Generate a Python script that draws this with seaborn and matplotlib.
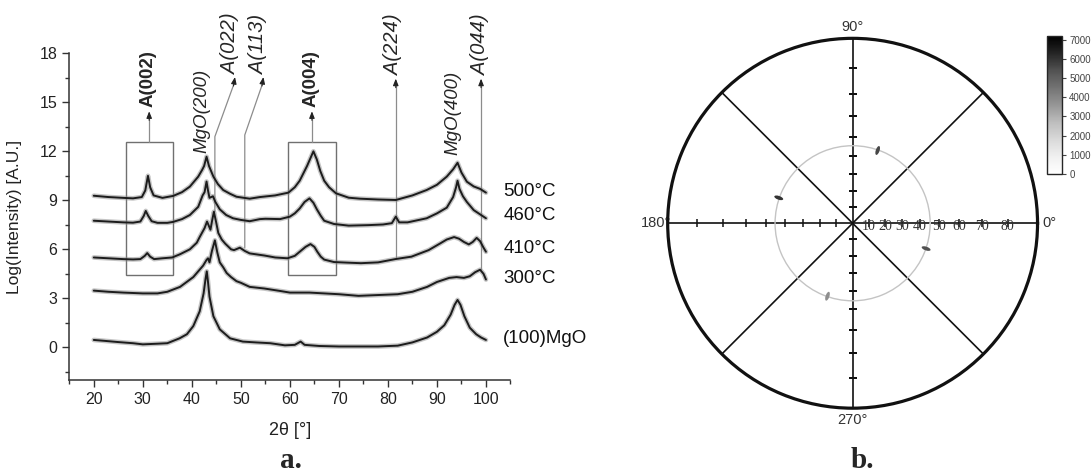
import numpy as np
import pandas as pd
import matplotlib
matplotlib.use('Agg')
import matplotlib.pyplot as plt
from matplotlib.markers import MarkerStyle
from matplotlib.transforms import Affine2D
import seaborn as sns

# --- panel a: XRD scans (2theta [deg], offset log intensity) ---
tt_mgo = [20, 22, 25, 28, 30, 33, 35, 37.5, 39, 40.3, 41.6, 42.4, 42.8, 43.05, 43.3, 43.6,
          44.4, 45.7, 47.8, 50.4, 53, 56, 59, 61, 62.2, 63, 66, 70, 74, 78, 82, 85, 88, 90,
          91.5, 92.8, 93.6, 94.2, 94.8, 95.6, 96.7, 98, 99, 100]
li_mgo = [0.45, 0.4, 0.32, 0.25, 0.18, 0.22, 0.25, 0.55, 0.8, 1.3, 2.2, 3.3, 4.2, 4.65, 4.0, 3.1,
          1.9, 1.1, 0.55, 0.35, 0.3, 0.25, 0.12, 0.15, 0.35, 0.15, 0.08, 0.05, 0.05, 0.05, 0.1,
          0.3, 0.6, 0.95, 1.35, 2.0, 2.6, 2.9, 2.6, 1.9, 1.2, 0.8, 0.6, 0.45]

tt_300 = [20, 23, 26, 30, 33, 35, 37.6, 40.3, 42.3, 43.0, 43.3, 43.6, 44.1, 44.7, 45.2, 45.7,
          46.4, 47.1, 48, 49.1, 50, 51.8, 54.8, 58, 60, 64, 70, 74, 78, 82, 85, 88, 90, 92.5,
          94, 95.5, 96.7, 97.8, 98.8, 99.5, 100]
li_300 = [3.47, 3.4, 3.35, 3.3, 3.3, 3.4, 3.7, 4.3, 5.0, 5.35, 5.45, 5.2, 5.9, 6.55, 5.8, 5.2,
          4.9, 4.55, 4.3, 4.05, 3.95, 3.7, 3.6, 3.45, 3.35, 3.35, 3.25, 3.15, 3.2, 3.25, 3.4,
          3.7, 4.0, 4.25, 4.3, 4.25, 4.35, 4.6, 4.75, 4.5, 4.15]

tt_410 = [20, 23, 26, 28, 29.5, 30.4, 30.9, 31.5, 32.3, 34, 36, 37.6, 39.6, 41, 41.6, 42.6,
          43.1, 43.8, 44.1, 44.5, 45.0, 45.4, 46.1, 46.8, 48, 48.6, 49.8, 50.8, 51.8, 54.8, 57,
          59.5, 61, 62, 63.2, 64.2, 65, 65.6, 66.3, 67, 69, 72, 74.5, 78, 81.5, 84.8, 88.3,
          90.6, 92, 93.5, 94.5, 95.5, 96.5, 97.3, 98.1, 98.8, 99.5, 100]
li_410 = [5.5, 5.45, 5.4, 5.38, 5.4, 5.6, 5.77, 5.55, 5.4, 5.45, 5.5, 5.7, 6.0, 6.4, 6.75, 7.3,
          7.7, 7.2, 7.7, 8.3, 7.6, 7.0, 6.6, 6.35, 6.0, 5.95, 6.1, 5.9, 5.75, 5.62, 5.5,
          5.45, 5.6, 5.85, 6.15, 6.32, 6.15, 5.85, 5.55, 5.37, 5.22, 5.18, 5.15, 5.2, 5.4, 5.55,
          5.95, 6.35, 6.6, 6.75, 6.65, 6.45, 6.3, 6.45, 6.7, 6.5, 6.1, 5.85]

tt_460 = [20, 23, 26, 28, 29.5, 30.2, 30.6, 31.1, 31.8, 33, 35, 36.2, 38, 39.6, 41.3, 42.2,
          42.6, 43.0, 43.3, 43.6, 44.3, 44.8, 45.7, 47, 48.4, 50, 51.8, 53.9, 55, 58, 60, 61,
          62, 63, 64, 64.8, 65.5, 66.3, 67, 69, 72, 76, 79, 80.8, 81.6, 82.3, 84, 87.9, 90,
          92, 93.3, 93.9, 94.2, 94.6, 95.3, 96.1, 97.5, 99, 100]
li_460 = [7.75, 7.7, 7.65, 7.63, 7.7, 8.05, 8.35, 8.05, 7.72, 7.62, 7.62, 7.68, 7.85, 8.1, 8.6,
          9.3, 9.5, 10.15, 9.6, 9.15, 9.25, 8.9, 8.45, 8.1, 7.9, 7.8, 7.72, 7.85, 7.87, 7.85,
          8.0, 8.2, 8.5, 8.9, 9.12, 8.85, 8.45, 8.05, 7.75, 7.55, 7.45, 7.48, 7.52, 7.6, 8.0,
          7.65, 7.65, 7.9, 8.2, 8.55, 9.2, 9.8, 10.2, 9.7, 9.25, 8.9, 8.4, 8.1, 7.9]

tt_500 = [20, 23, 26, 28, 29.8, 30.5, 31.05, 31.5, 32.2, 34, 36.2, 38, 39.6, 41.3, 42.1, 42.5,
          43.0, 43.5, 44.4, 45.3, 46.4, 47.8, 49.1, 51.8, 53.9, 57, 59.7, 61, 62, 63.5, 64.8,
          65.5, 66.2, 67, 68, 69.4, 72, 74.3, 78, 81.6, 85, 87.9, 90, 92, 93.3, 94.2, 95, 96.1,
          97.5, 98.8, 100]
li_500 = [9.28, 9.2, 9.15, 9.12, 9.2, 9.6, 10.5, 9.8, 9.3, 9.15, 9.27, 9.5, 9.84, 10.45, 10.86,
          11.1, 11.67, 11.1, 10.45, 10.0, 9.63, 9.4, 9.22, 9.1, 9.2, 9.3, 9.47, 9.8, 10.2, 11.1,
          12.0, 11.5, 10.8, 10.2, 9.8, 9.43, 9.16, 9.1, 9.05, 9.02, 9.3, 9.63, 9.95, 10.45,
          10.9, 11.3, 10.7, 10.14, 9.85, 9.7, 9.47]

samples = ['(100)MgO', '300°C', '410°C', '460°C', '500°C']
sample_label_y = [0.55, 4.22, 6.06, 8.04, 9.53]

# --- panel b: pole figure (phi = azimuth, psi = tilt, deg) ---
pole_phi = [71, 161, 251, 341]
pole_psi = [45.2, 45.8, 45.3, 45.6]
pole_int = [5600, 6000, 3800, 5400]
radial_ticks = [10, 20, 30, 40, 50, 60, 70, 80]
ring_psi = [45.5]
cbar_ticks = [0, 1000, 2000, 3000, 4000, 5000, 6000, 7000]

sns.set_style('ticks')
plt.rcParams['font.family'] = ['Liberation Sans', 'DejaVu Sans']

fig = plt.figure(figsize=(10.91, 4.72), dpi=100)

# ================= panel a =================
ax = fig.add_axes([0.0635, 0.195, 0.4044, 0.692])

frames = []
for name, tt, li in zip(samples, [tt_mgo, tt_300, tt_410, tt_460, tt_500],
                        [li_mgo, li_300, li_410, li_460, li_500]):
    frames.append(pd.DataFrame({'two_theta': tt, 'log_int': li, 'sample': name}))
df = pd.concat(frames, ignore_index=True)

# fuzzy halo + core line to mimic the noisy scans
sns.lineplot(data=df, x='two_theta', y='log_int', units='sample', estimator=None,
             sort=False, color='#8a8a8a', lw=3.4, alpha=0.5, ax=ax, zorder=3)
sns.lineplot(data=df, x='two_theta', y='log_int', units='sample', estimator=None,
             sort=False, color='#1c1c1c', lw=1.4, ax=ax, zorder=4)

for name, yy in zip(samples, sample_label_y):
    ax.text(103.5, yy, name, fontsize=13.5, va='center', ha='left', color='#111', clip_on=False)

line_col = '#8c8c8c'
box_col = '#707070'

def head(x0, y0, x1, y1):
    ax.annotate('', xy=(x1, y1), xytext=(x0, y0), annotation_clip=False,
                arrowprops=dict(arrowstyle='-|>,head_length=0.4,head_width=0.16',
                                color='#222', lw=0.8, shrinkA=0, shrinkB=0))

# boxed anatase reflections
for x0, x1, lab in [(26.5, 36.1, 'A(002)'), (59.65, 69.35, 'A(004)')]:
    ax.add_patch(plt.Rectangle((x0, 4.45), x1 - x0, 12.6 - 4.45, fill=False,
                               ec=box_col, lw=1.0, zorder=2))
    xc = (x0 + x1) / 2
    ax.plot([xc, xc], [12.6, 14.0], color=line_col, lw=0.9, zorder=2)
    head(xc, 13.9, xc, 14.45)
    ax.text(xc - 0.2, 14.7, lab, rotation=90, ha='center', va='bottom', fontsize=13.5,
            fontweight='bold', clip_on=False)

# substrate peaks
ax.text(42.0, 11.9, 'MgO(200)', rotation=90, ha='center', va='bottom', fontsize=13.5,
        style='italic', clip_on=False)
ax.text(93.3, 11.8, 'MgO(400)', rotation=90, ha='center', va='bottom', fontsize=13.5,
        style='italic', clip_on=False)

# bent leaders
for xb, yb, ybend, xt, lab, xl in [(44.7, 8.3, 12.9, 48.8, 'A(022)', 47.8),
                                   (50.8, 6.1, 13.0, 54.6, 'A(113)', 53.5)]:
    ax.plot([xb, xb, xt], [yb, ybend, 16.3], color=line_col, lw=0.9, zorder=2, clip_on=False)
    head(xt - 0.3, 16.0, xt, 16.55)
    ax.text(xl, 16.75, lab, rotation=90, ha='center', va='bottom', fontsize=14.5,
            style='italic', clip_on=False)

# straight leaders
for xb, yb, lab, xl in [(81.6, 5.45, 'A(224)', 81.2), (99.0, 4.8, 'A(044)', 98.8)]:
    ax.plot([xb, xb], [yb, 16.0], color=line_col, lw=0.9, zorder=2, clip_on=False)
    head(xb, 15.9, xb, 16.45)
    ax.text(xl, 16.7, lab, rotation=90, ha='center', va='bottom', fontsize=14.5,
            style='italic', clip_on=False)

ax.set_xlim(15, 105)
ax.set_ylim(-2, 18)
ax.set_xticks(range(20, 101, 10))
ax.set_xticks(np.arange(15, 106, 5), minor=True)
ax.set_yticks(range(0, 19, 3))
ax.set_yticks(np.arange(-1.5, 18, 1.5), minor=True)
ax.tick_params(which='major', direction='out', length=5, width=1, color='#333',
               labelsize=11.5, labelcolor='#222')
ax.tick_params(which='minor', direction='out', length=3, width=1, color='#333')
sns.despine(ax=ax)
for s in ['left', 'bottom']:
    ax.spines[s].set_color('#333')
    ax.spines[s].set_linewidth(1.1)
ax.set_xlabel('2θ [°]', fontsize=13, color='#222')
ax.set_ylabel('Log(Intensity) [A.U.]', fontsize=12.5, color='#222')
ax.xaxis.set_label_coords(0.5, -0.13)
ax.yaxis.set_label_coords(-0.108, 0.5)

fig.text(0.267, 0.025, 'a.', fontsize=21, fontweight='bold', family='Liberation Serif',
         ha='center', va='center')

# ================= panel b =================
pax = fig.add_axes([0.612, 0.135, 0.339, 0.784], projection='polar')
pax.set_rscale('function', functions=(lambda r: np.tan(np.radians(r) / 2),
                                      lambda u: np.degrees(2 * np.arctan(u))))
pax.set_ylim(0, 90)
pax.set_yticks(ring_psi)
pax.set_yticklabels([])
pax.yaxis.grid(True, color='#c4c4c4', lw=1.0)
pax.set_thetagrids(range(0, 360, 45), labels=['0°', '', '90°', '', '180°', '', '270°', ''])
pax.xaxis.grid(True, color='#111', lw=1.2)
pax.tick_params(axis='x', labelsize=10.5, labelcolor='#333', pad=-2)
pax.spines['polar'].set_linewidth(2.3)
pax.spines['polar'].set_color('#111')

rt = np.array(radial_ticks, dtype=float)
for th, mk in [(0, '|'), (np.pi, '|'), (np.pi / 2, '_'), (3 * np.pi / 2, '_')]:
    pax.plot(np.full_like(rt, th), rt, ls='none', marker=mk, ms=5.5, mew=1.1, color='#111')
for r in radial_ticks:
    pax.annotate(str(r), xy=(0, r), xytext=(0, -2.5), textcoords='offset points',
                 ha='center', va='center', fontsize=10, family='Liberation Serif', color='#333')

cmap = plt.get_cmap('Greys')
norm = plt.Normalize(0, 7200)
for phi, psi, val in zip(pole_phi, pole_psi, pole_int):
    mk = MarkerStyle('o', transform=Affine2D().scale(1.0, 0.4).rotate_deg(phi))
    pax.scatter([np.radians(phi)], [psi], s=45, marker=mk, c=[val], cmap=cmap, norm=norm,
                edgecolors='none', zorder=5)

cax = fig.add_axes([0.9594, 0.6314, 0.0143, 0.2924])
cb = fig.colorbar(plt.cm.ScalarMappable(norm=norm, cmap=cmap), cax=cax, ticks=cbar_ticks)
cb.outline.set_linewidth(1.0)
cb.ax.tick_params(labelsize=7, length=3, width=0.8, colors='#444', pad=2)

fig.text(0.79, 0.025, 'b.', fontsize=21, fontweight='bold', family='Liberation Serif',
         ha='center', va='center')

plt.savefig('out.png', dpi=100)
plt.close()
